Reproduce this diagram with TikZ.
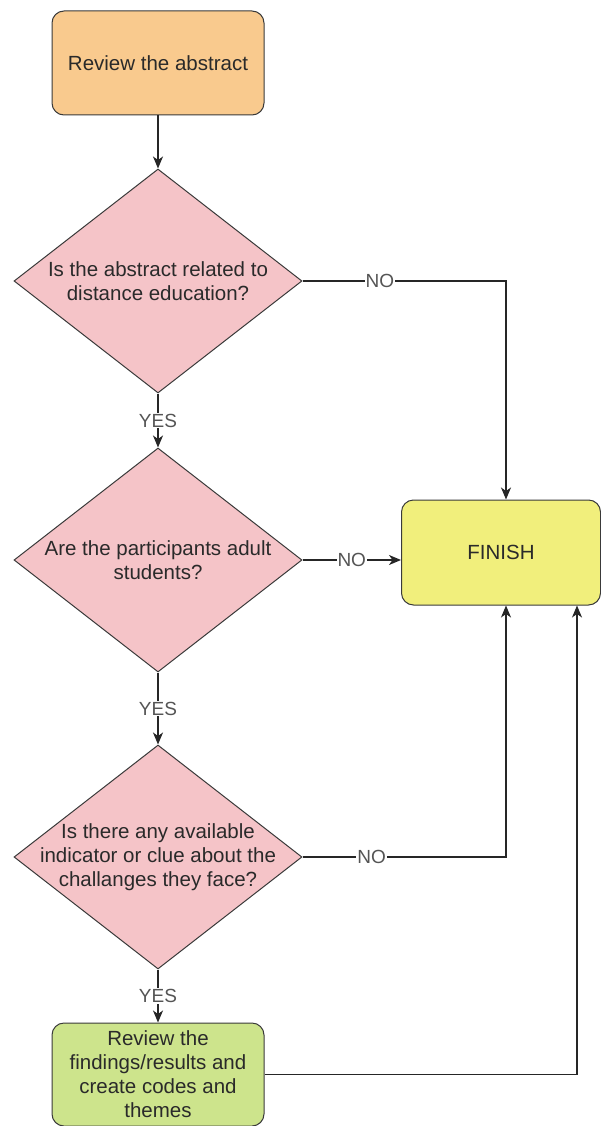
\documentclass[tikz,border=0pt]{standalone}
\usepackage{fontspec}
\setmainfont{Liberation Sans}
\usetikzlibrary{shapes.geometric,arrows.meta,calc}
\definecolor{orangefill}{HTML}{F9CA8E}
\definecolor{pinkfill}{HTML}{F5C4C8}
\definecolor{yellowfill}{HTML}{F1EF7C}
\definecolor{greenfill}{HTML}{CDE48C}
\definecolor{edgecol}{HTML}{3A3A3A}
\definecolor{textcol}{HTML}{2A2A2A}
\tikzset{
  base/.style={draw=edgecol, line width=1pt, text=textcol, font=\fontsize{20.5}{24}\selectfont, align=center, inner sep=0pt},
  roundbox/.style={base, rectangle, rounded corners=12pt},
  decision/.style={base, diamond, fill=pinkfill, minimum width=288pt, minimum height=224pt},
  qtext/.style={text=textcol, font=\fontsize{20.5}{24}\selectfont, align=center, inner sep=0pt},
  conn/.style={draw=black!85, line width=1.3pt, -{Stealth[length=12pt,width=10pt,inset=3.5pt]}},
  lbl/.style={fill=white, text=textcol!80, font=\fontsize{19}{22}\selectfont, inner sep=1pt}
}
\begin{document}
\begin{tikzpicture}[x=1pt,y=-1pt]
\useasboundingbox (0,0) rectangle (601,1126);
\node[roundbox, fill=orangefill, minimum width=212pt, minimum height=104pt] (start) at (158,63) {Review the abstract};
\node[decision] (d1) at (158,281) {};
\node[qtext] at (d1) {Is the abstract related to\\distance education?};
\node[decision] (d2) at (158,560) {};
\node[qtext] at (d2) {Are the participants adult\\students?};
\node[decision] (d3) at (158,857) {};
\node[qtext] at (d3) {Is there any available\\indicator or clue about the\\challanges they face?};
\node[roundbox, fill=yellowfill, minimum width=199pt, minimum height=105pt] (finish) at (501,552.5) {FINISH};
\node[roundbox, fill=greenfill, minimum width=212pt, minimum height=103pt] (green) at (158,1074.5) {Review the\\findings/results and\\create codes and\\themes};
\coordinate (ftop) at ($(finish.north)+(5,0)$);
\coordinate (fbot) at ($(finish.south)+(5,0)$);
\coordinate (fbot2) at ($(finish.south)+(76,0)$);
\draw[conn] (start) -- (d1);
\draw[conn] (d1.south) -- node[lbl]{YES} (d2.north);
\draw[conn] (d2.south) -- node[lbl]{YES} (d3.north);
\draw[conn] (d3.south) -- node[lbl]{YES} (green.north);
\draw[conn] (d1.east) -| node[lbl, pos=0.19]{NO} (ftop);
\draw[conn] (d2.east) -- node[lbl]{NO} (d2.east -| finish.west);
\draw[conn] (d3.east) -| node[lbl, pos=0.17]{NO} (fbot);
\draw[conn] (green.east) -| (fbot2);
\end{tikzpicture}
\end{document}
